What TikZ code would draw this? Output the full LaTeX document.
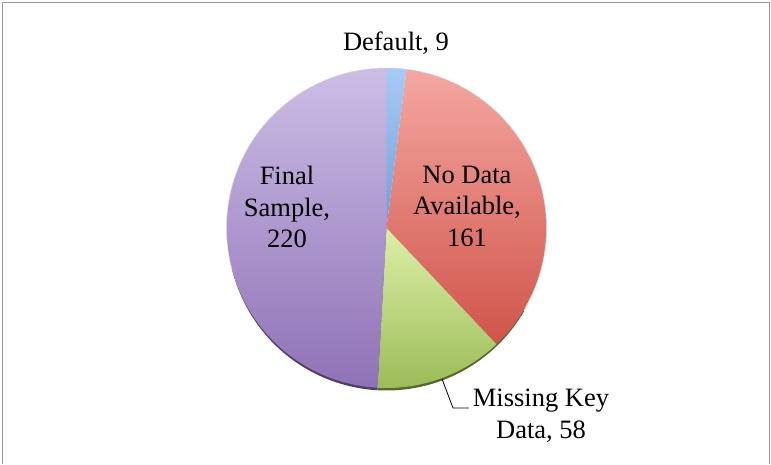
\documentclass[tikz,border=0pt]{standalone}
\usepackage{fontspec}
\setmainfont{Liberation Serif}
\usetikzlibrary{calc}
\definecolor{defblue}{HTML}{A8CBF3}
\definecolor{defblueD}{HTML}{6D9FDC}
\definecolor{nodred}{HTML}{F4A7A1}
\definecolor{nodredD}{HTML}{D0544A}
\definecolor{misgreen}{HTML}{DCF0A8}
\definecolor{misgreenD}{HTML}{9CBB58}
\definecolor{finpurple}{HTML}{CCBDE6}
\definecolor{finpurpleD}{HTML}{8F72B6}
\tikzstyle{every picture}+=[remember picture]
\tikzstyle{slicelabel}=[align=center, font=\fontsize{26.5}{31.5}\selectfont, inner sep=0pt]

\begin{document}
\begin{tikzpicture}[x=1pt,y=1pt]
		\useasboundingbox (0,0) rectangle (771,464);
		\draw[gray!80, line width=1.4pt] (2.7,0) -- (2.7,461.3) -- (769.5,461.3) -- (769.5,0);
		
		\coordinate (c) at (386.5,236);
		% shadow rim
		\fill[finpurpleD!55!black] ($(c)+(0,-3.5)$) ++(-93.2:159pt) arc[start angle=-93.2, end angle=-195, radius=159pt] -- (c) -- cycle;
		\fill[misgreenD!55!black] ($(c)+(0,-3.5)$) ++(-30:159pt) arc[start angle=-30, end angle=-93.2, radius=159pt] -- (c) -- cycle;
		
		\shade[top color=defblue, bottom color=defblueD] (c) -- ++(90:160pt) arc[start angle=90, end angle=82.77, radius=160pt] -- cycle;
		\shade[top color=nodred, bottom color=nodredD] (c) -- ++(82.77:160pt) arc[start angle=82.77, end angle=-46.6, radius=160pt] -- cycle;
		\shade[top color=misgreen, bottom color=misgreenD] (c) -- ++(-46.6:160pt) arc[start angle=-46.6, end angle=-93.2, radius=160pt] -- cycle;
		\shade[top color=finpurple, bottom color=finpurpleD] (c) -- ++(-93.2:160pt) arc[start angle=-93.2, end angle=-270, radius=160pt] -- cycle;
		\draw[gray!30, line width=0.5pt] (c) ++(90:160pt) arc[start angle=90, end angle=-30, radius=160pt];
		\draw[gray!30, line width=0.5pt] (c) ++(90:160pt) arc[start angle=90, end angle=195, radius=160pt];
		
		\node(default) [slicelabel] at (396,421) {Default, 9};
		\node(nodata) [slicelabel] at (467,258) {No Data\\Available,\\161};
		\node(final) [slicelabel] at (287,257) {Final\\Sample,\\220};
		\node(missing) [slicelabel] at (541,48) {Missing Key\\Data, 58};
		
		\coordinate(mk) at ($(c)+(-69.8:161pt)$);
		\coordinate(bend) at (453,56);
		\draw[black, line width=0.8pt] (mk) -- (bend) -- ($(bend -| missing.west)+(-4,0)$);
		
		\end{tikzpicture}
\end{document}
